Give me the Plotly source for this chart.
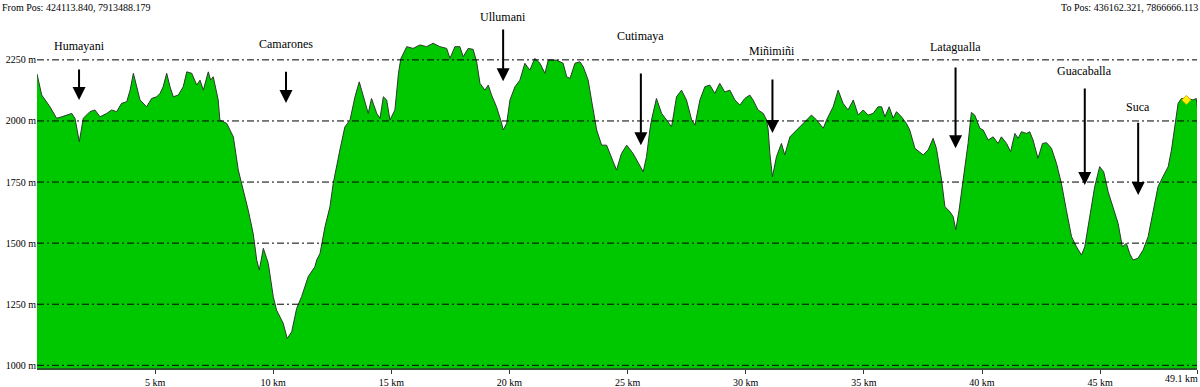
import plotly.graph_objects as go

# ---- data ----
dist_km = [
    0.00, 0.20, 0.55, 0.83, 1.05, 1.25, 1.47, 1.61, 1.79, 1.96, 2.24, 2.45, 2.67, 2.95, 3.16, 3.37,
    3.58, 3.80, 3.94, 4.08, 4.22, 4.36, 4.64, 4.85, 5.07, 5.21, 5.34, 5.49, 5.63, 5.77, 5.98, 6.19,
    6.34, 6.55, 6.76, 6.90, 7.04, 7.18, 7.25, 7.35, 7.46, 7.67, 7.74, 8.03, 8.17, 8.31, 8.52, 8.66,
    8.94, 9.15, 9.30, 9.41, 9.58, 9.72, 9.79, 10.00, 10.14, 10.42, 10.59, 10.78, 10.99, 11.20, 11.48,
    11.76, 11.84, 11.98, 12.19, 12.40, 12.54, 12.82, 13.03, 13.25, 13.46, 13.64, 13.81, 14.02, 14.16,
    14.38, 14.52, 14.66, 14.80, 14.94, 15.15, 15.30, 15.40, 15.50, 15.65, 15.92, 16.21, 16.49, 16.77,
    17.05, 17.34, 17.48, 17.69, 17.90, 18.04, 18.25, 18.46, 18.61, 18.75, 18.96, 19.10, 19.24, 19.45,
    19.67, 19.73, 19.88, 20.02, 20.23, 20.44, 20.65, 20.86, 21.07, 21.29, 21.50, 21.64, 21.99, 22.27,
    22.42, 22.56, 22.77, 22.98, 23.12, 23.33, 23.47, 23.61, 23.69, 23.90, 24.11, 24.39, 24.53, 24.74,
    24.96, 25.23, 25.52, 25.66, 25.80, 25.87, 25.94, 26.01, 26.22, 26.44, 26.65, 26.86, 27.07, 27.28,
    27.49, 27.71, 27.85, 28.06, 28.27, 28.48, 28.69, 28.90, 29.11, 29.33, 29.54, 29.75, 29.96, 30.17,
    30.31, 30.52, 30.74, 30.88, 30.95, 31.02, 31.13, 31.30, 31.51, 31.65, 31.87, 32.08, 32.29, 32.57,
    32.78, 33.00, 33.28, 33.42, 33.70, 33.91, 34.12, 34.33, 34.55, 34.76, 34.97, 35.18, 35.39, 35.60,
    35.75, 35.89, 36.07, 36.24, 36.38, 36.59, 36.80, 36.94, 37.16, 37.51, 37.72, 37.93, 38.07, 38.29,
    38.43, 38.64, 38.78, 38.89, 39.03, 39.20, 39.41, 39.55, 39.69, 39.91, 40.05, 40.26, 40.47, 40.68,
    40.82, 41.04, 41.21, 41.39, 41.53, 41.67, 41.88, 42.02, 42.16, 42.37, 42.56, 42.73, 42.94, 43.15,
    43.36, 43.57, 43.79, 44.00, 44.21, 44.35, 44.56, 44.77, 44.98, 45.15, 45.34, 45.55, 45.76, 45.94,
    46.11, 46.25, 46.39, 46.60, 46.82, 47.03, 47.24, 47.45, 47.66, 47.88, 48.02, 48.16, 48.30, 48.44,
    48.72, 48.93, 49.07, 49.10,
]
elev_m = [
    2192, 2106, 2058, 2011, 2017, 2024, 2031, 2010, 1915, 2011, 2038, 2045, 2017, 2031, 2045, 2038,
    2072, 2079, 2126, 2195, 2140, 2086, 2058, 2092, 2099, 2113, 2140, 2195, 2140, 2099, 2106, 2140,
    2201, 2195, 2147, 2167, 2126, 2181, 2201, 2167, 2181, 2086, 2004, 1990, 1963, 1935, 1799, 1745,
    1635, 1540, 1431, 1390, 1479, 1438, 1417, 1281, 1226, 1172, 1110, 1137, 1233, 1281, 1363,
    1403, 1431, 1458, 1567, 1649, 1745, 1881, 1975, 2004, 2099, 2160, 2099, 2031, 2092,
    2031, 2011, 2099, 2086, 2004, 2045, 2195, 2255, 2277, 2304, 2297, 2311, 2304, 2318,
    2304, 2297, 2256, 2304, 2304, 2263, 2297, 2293, 2242, 2154, 2126, 2147, 2106, 2058,
    1990, 1963, 1990, 2086, 2140, 2167, 2236, 2208, 2256, 2236, 2195, 2249, 2249, 2236,
    2181, 2174, 2236, 2242, 2222, 2167, 2086, 2004, 1963, 1901, 1901, 1833, 1799, 1867,
    1901, 1867, 1813, 1792, 1854, 1922, 1963, 2004, 2092, 2031, 2004, 1976, 2099, 2126,
    2086, 2004, 1983, 2086, 2140, 2147, 2113, 2154, 2119, 2126, 2086, 2065, 2092, 2106,
    2086, 2045, 2031, 2004, 1963, 1867, 1772, 1854, 1908, 1861, 1935, 1956, 1976, 2004,
    2024, 2004, 1970, 2004, 2058, 2126, 2072, 2045, 2086, 2024, 2045, 2024, 2031, 2058,
    2058, 2017, 2058, 2011, 2038, 2017, 1990, 1963, 1888, 1861, 1881, 1929, 1888, 1758,
    1649, 1629, 1608, 1554, 1635, 1758, 1908, 2035, 2024, 1970, 1963, 1922, 1935, 1908,
    1935, 1908, 1874, 1949, 1929, 1956, 1949, 1956, 1922, 1847, 1908, 1911, 1888, 1827,
    1745, 1635, 1526, 1485, 1451, 1485, 1608, 1731, 1813, 1792, 1710, 1649, 1581, 1485,
    1499, 1458, 1431, 1438, 1472, 1526, 1635, 1731, 1772, 1813, 1881, 1980, 2072, 2092,
    2092, 2086, 2092, 2060,
]

place_names = ["Humayani", "Camarones", "Ullumani", "Cutimaya", "Miñimiñi",
               "Latagualla", "Guacaballa", "Suca"]
place_km = [1.78, 10.54, 19.73, 25.56, 31.13, 38.88, 44.35, 46.61]
label_elev = [2307, 2315, 2425, 2347, 2286, 2302, 2204, 2057]
arrow_tail_elev = [2217, 2208, 2380, 2200, 2176, 2225, 2139, 1999]
arrow_tip_elev = [2086, 2073, 2163, 1901, 1951, 1888, 1738, 1697]

marker_km = [48.65]
marker_elev = [2086]

y_ticks = [1000, 1250, 1500, 1750, 2000, 2250]
x_ticks = [5, 10, 15, 20, 25, 30, 35, 40, 45]
x_end = 49.1

from_text = "From Pos: 424113.840, 7913488.179"
to_text = "To Pos: 436162.321, 7866666.113"

SERIF = "Liberation Serif, Times New Roman, serif"

fig = go.Figure()
fig.add_trace(go.Scatter(
    x=dist_km, y=elev_m, mode="lines", fill="tozeroy",
    fillcolor="rgb(0,200,0)", line=dict(color="#2b3b2b", width=1),
    hoverinfo="skip", showlegend=False,
))
fig.add_trace(go.Scatter(
    x=marker_km, y=marker_elev, mode="markers",
    marker=dict(symbol="diamond", size=7, color="#ffee00",
                line=dict(color="#c8b400", width=1)),
    hoverinfo="skip", showlegend=False,
))

shapes = []
for v in y_ticks:
    shapes.append(dict(type="line", xref="paper", x0=0, x1=1, yref="y", y0=v, y1=v,
                       line=dict(color="black", width=1, dash="7px,3px,2px,3px"),
                       layer="above"))

annotations = []
for name, km, ly, ty, hy in zip(place_names, place_km, label_elev,
                                arrow_tail_elev, arrow_tip_elev):
    annotations.append(dict(x=km, y=ly, xref="x", yref="y", text=name, showarrow=False,
                            font=dict(family=SERIF, size=12, color="black"),
                            xanchor="center", yanchor="middle"))
    annotations.append(dict(x=km, y=hy, xref="x", yref="y", ax=km, ay=ty,
                            axref="x", ayref="y", text="", showarrow=True,
                            arrowhead=2, arrowsize=1.3, arrowwidth=2,
                            arrowcolor="black", standoff=0, startstandoff=0))

annotations.append(dict(x=-37 / 1160, y=1, xref="paper", yref="paper", text=from_text,
                        showarrow=False, xanchor="left", yanchor="top",
                        font=dict(family=SERIF, size=10, color="black")))
annotations.append(dict(x=1 + 3 / 1160, y=1, xref="paper", yref="paper", text=to_text,
                        showarrow=False, xanchor="right", yanchor="top",
                        font=dict(family=SERIF, size=10, color="black")))
annotations.append(dict(x=x_end, y=0, xref="x", yref="paper", text=f"{x_end} km",
                        showarrow=False, xanchor="right", yanchor="top", xshift=3, yshift=-3,
                        font=dict(family=SERIF, size=10, color="black")))

fig.update_layout(
    width=1200, height=387,
    margin=dict(l=37, r=3, t=0, b=19),
    paper_bgcolor="white", plot_bgcolor="white",
    shapes=shapes, annotations=annotations,
    showlegend=False,
)
fig.update_xaxes(
    range=[0, x_end], showgrid=False, zeroline=False,
    tickvals=x_ticks + [x_end], ticktext=[f"{t} km" for t in x_ticks] + [""],
    ticks="outside", ticklen=4, tickcolor="#333", tickwidth=1,
    showline=True, linecolor="#2a5a2a", linewidth=2,
    tickfont=dict(family=SERIF, size=10, color="black"),
    automargin=False, fixedrange=True,
)
fig.update_yaxes(
    range=[989, 2495], showgrid=False, zeroline=False,
    tickvals=y_ticks, ticktext=[f"{t} m" for t in y_ticks],
    ticks="", showline=False,
    tickfont=dict(family=SERIF, size=10, color="black"),
    automargin=False, fixedrange=True,
)

fig.write_html(
    "out.html",
    config={"displayModeBar": False},
    post_script="document.body.style.margin='0';document.body.style.overflow='hidden';",
)
